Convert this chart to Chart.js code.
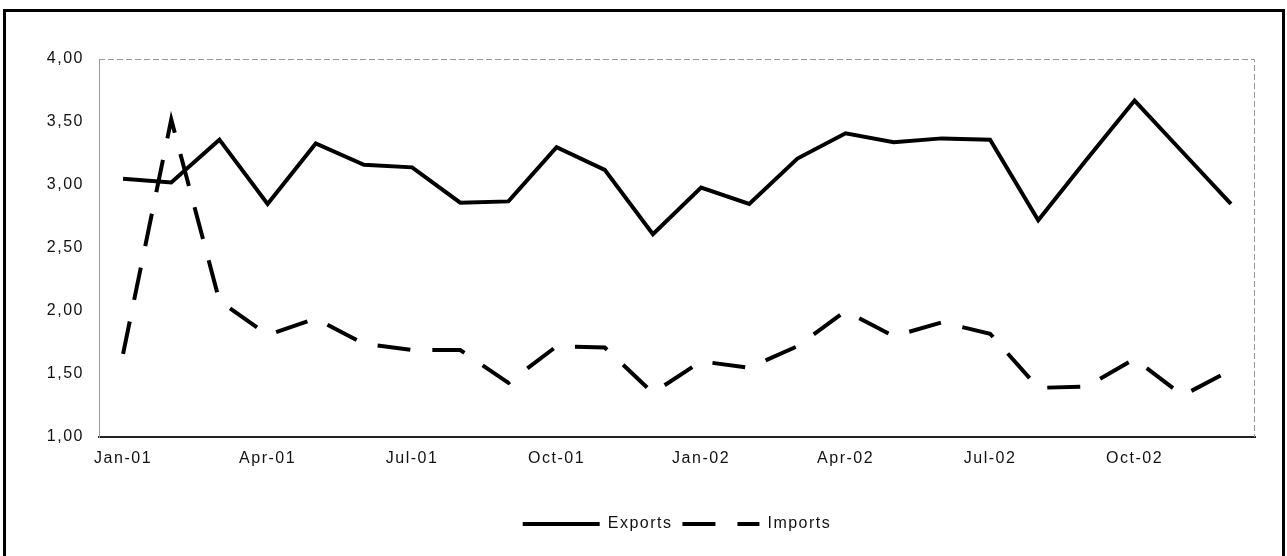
<!DOCTYPE html>
<html>
<head>
<meta charset="utf-8">
<script src="https://cdn.jsdelivr.net/npm/chart.js@4/dist/chart.umd.min.js"></script>
<style>
  html, body { margin: 0; padding: 0; background: #fff; overflow: hidden; }
  #wrap { position: relative; width: 1287px; height: 556px; }
  #chart { position: absolute; left: 0; top: 0; }
  /* outer frame, bottom edge runs off the page */
  #frame {
    position: absolute; left: 3px; top: 9px; width: 1276px; height: 600px;
    border: 3px solid #000; pointer-events: none;
  }
</style>
</head>
<body>
<div id="wrap">
  <canvas id="chart" width="1287" height="556"></canvas>
  <div id="frame"></div>
</div>
<script>
// -- Data -------------------------------------------------------------------

const months = [
  'Jan-01', 'Feb-01', 'Mar-01', 'Apr-01', 'May-01', 'Jun-01',
  'Jul-01', 'Aug-01', 'Sep-01', 'Oct-01', 'Nov-01', 'Dec-01',
  'Jan-02', 'Feb-02', 'Mar-02', 'Apr-02', 'May-02', 'Jun-02',
  'Jul-02', 'Aug-02', 'Sep-02', 'Oct-02', 'Nov-02', 'Dec-02',
];

const exportsSeries = [
  3.05, 3.02, 3.36, 2.85, 3.33, 3.16, 3.14, 2.86, 2.87, 3.30, 3.12, 2.61,
  2.98, 2.85, 3.21, 3.41, 3.34, 3.37, 3.36, 2.72, 3.20, 3.67, 3.26, 2.85,
];

const importsSeries = [
  1.66, 3.52, 2.08, 1.81, 1.94, 1.74, 1.69, 1.69, 1.43, 1.72, 1.71, 1.35,
  1.60, 1.55, 1.72, 2.00, 1.80, 1.91, 1.82, 1.39, 1.40, 1.62, 1.33, 1.53,
];

const yTicks = [1.0, 1.5, 2.0, 2.5, 3.0, 3.5, 4.0];

// -- Chart ------------------------------------------------------------------

const FONT = "'Liberation Sans', Arial, sans-serif";
const TRACKING = '1.5px';
Chart.defaults.font.family = FONT;
Chart.defaults.font.size = 16;
Chart.defaults.color = '#111';
Chart.defaults.animation = false;

// slightly wide tracking on all chart text
const spacedText = {
  id: 'spacedText',
  beforeUpdate(chart) { chart.ctx.letterSpacing = TRACKING; },
  beforeDraw(chart) { chart.ctx.letterSpacing = TRACKING; },
};

// centre the legend under the plot area rather than the whole canvas
const legendUnderPlot = {
  id: 'legendUnderPlot',
  afterLayout(chart) {
    const lg = chart.legend;
    const a = chart.chartArea;
    if (!lg) return;
    const shift = (a.left + a.right) / 2 - (lg.left + lg.right) / 2;
    lg.left += shift;
    lg.right += shift;
  },
};

// thin grey border on top and right of the plot area
const plotFrame = {
  id: 'plotFrame',
  beforeDatasetsDraw(chart) {
    const { ctx, chartArea: a } = chart;
    ctx.save();
    ctx.strokeStyle = '#999';
    ctx.lineWidth = 1;
    ctx.setLineDash([6, 3]);
    ctx.beginPath();
    ctx.moveTo(a.left, a.top + 0.5);
    ctx.lineTo(a.right - 0.5, a.top + 0.5);
    ctx.lineTo(a.right - 0.5, a.bottom);
    ctx.stroke();
    ctx.restore();
  },
};

new Chart(document.getElementById('chart'), {
  type: 'line',
  data: {
    labels: months,
    datasets: [
      {
        label: 'Exports',
        data: exportsSeries,
        borderColor: '#000',
        backgroundColor: '#000',
        borderWidth: 4,
        pointRadius: 0,
        pointStyle: 'line',
        tension: 0,
      },
      {
        label: 'Imports',
        data: importsSeries,
        borderColor: '#000',
        backgroundColor: '#000',
        borderWidth: 4,
        borderDash: [33, 22],
        pointRadius: 0,
        pointStyle: 'line',
        tension: 0,
      },
    ],
  },
  options: {
    responsive: false,
    layout: { padding: { top: 59, right: 32, bottom: 14, left: 0 } },
    scales: {
      x: {
        offset: true,
        grid: { display: false, drawTicks: false },
        border: { display: true, color: '#222', width: 2 },
        afterFit(scale) { scale.height = 69; },
        ticks: {
          autoSkip: false,
          maxRotation: 0,
          padding: 12,
          color: '#111',
          callback: (v, i) => (i % 3 === 0 ? months[i] : ''),
        },
      },
      y: {
        min: 1,
        max: 4,
        afterFit(scale) { scale.width = 99; },
        afterBuildTicks(scale) {
          scale.ticks = yTicks.map((v) => ({ value: v }));
        },
        grid: { display: false, drawTicks: false },
        border: { display: true, color: '#999', width: 1, dash: [6, 3] },
        ticks: {
          padding: 15,
          color: '#111',
          callback: (v) => Number(v).toFixed(2).replace('.', ','),
        },
      },
    },
    plugins: {
      legend: {
        position: 'bottom',
        labels: {
          usePointStyle: true,
          pointStyleWidth: 77,
          boxHeight: 16,
          padding: 10,
          color: '#111',
          generateLabels(chart) {
            const items = Chart.defaults.plugins.legend.labels.generateLabels(chart);
            items.forEach((it) => {
              const ds = chart.data.datasets[it.datasetIndex];
              it.lineDash = ds.borderDash || [];
              it.lineWidth = 4;
              it.strokeStyle = '#000';
            });
            return items;
          },
        },
      },
      tooltip: { enabled: false },
    },
  },
  plugins: [spacedText, legendUnderPlot, plotFrame],
});
</script>
</body>
</html>
